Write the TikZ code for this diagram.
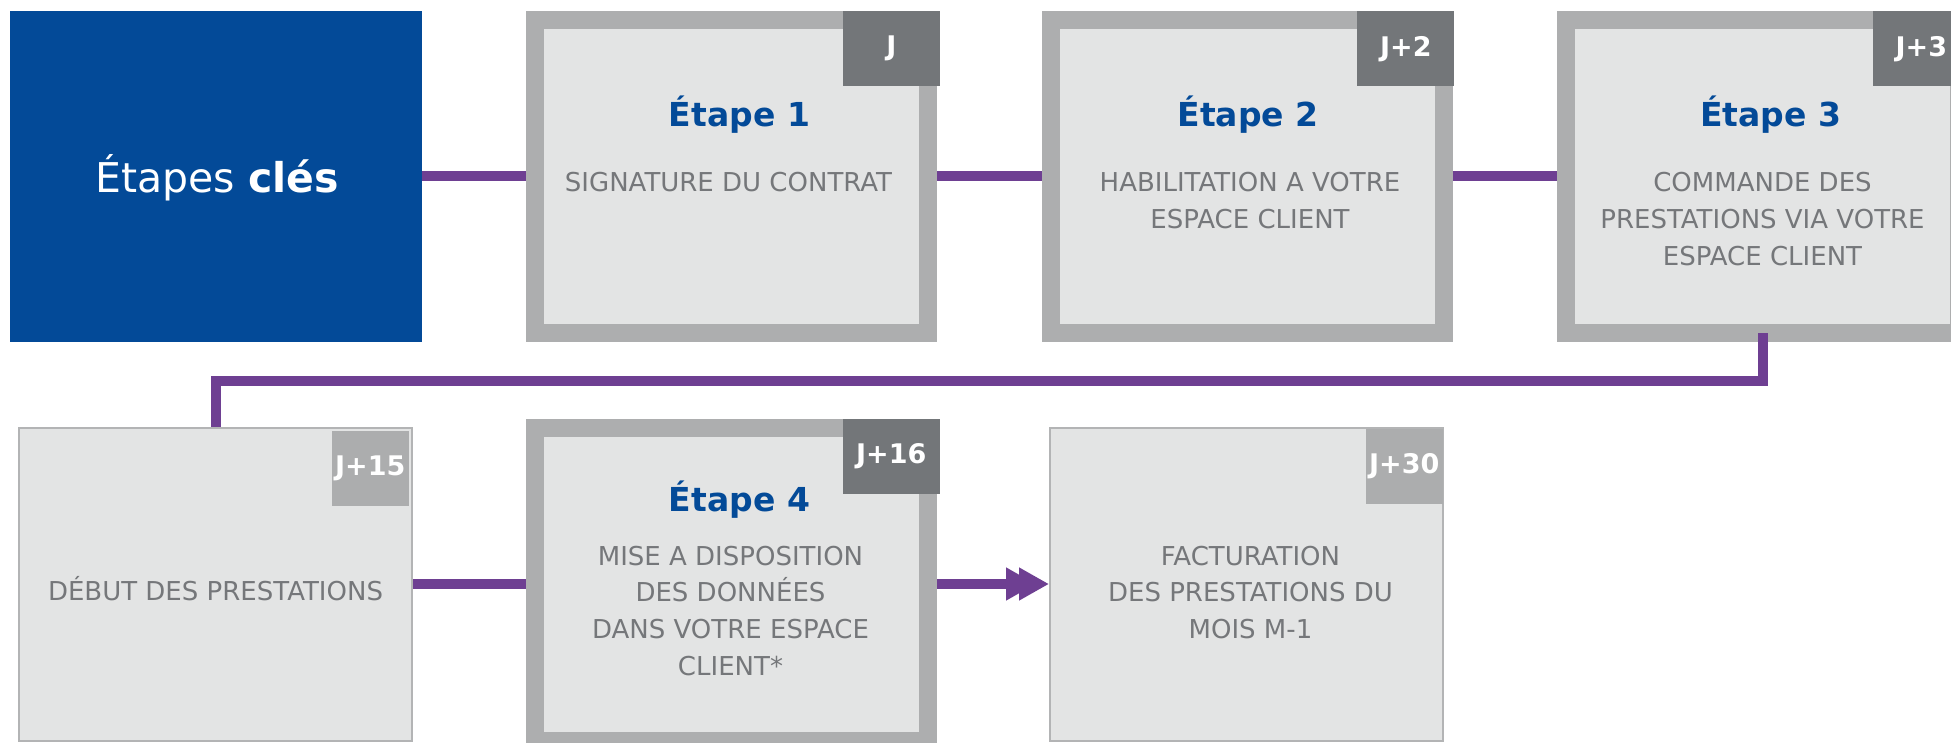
\documentclass[tikz,border=0pt]{standalone}
\usepackage{fontspec}
\setmainfont{DejaVu Sans}
\usepackage{tikz}
\usetikzlibrary{arrows.meta}

\definecolor{bleucle}{HTML}{034A98}
\definecolor{violetlien}{HTML}{6E3F92}
\definecolor{grisbord}{HTML}{ADAEAF}
\definecolor{grisfond}{HTML}{E3E4E4}
\definecolor{grisfin}{HTML}{B3B4B5}
\definecolor{grisfonce}{HTML}{737679}
\definecolor{grisbadge}{HTML}{ACADAE}
\definecolor{gristexte}{HTML}{75777A}

\begin{document}
\begin{tikzpicture}[x=1pt, y=-1pt,
    cadre/.style={draw=grisbord, line width=18pt, fill=grisfond, minimum width=393pt, minimum height=313pt, inner sep=0pt, outer sep=9pt},
    cadrefin/.style={draw=grisfin, line width=2pt, fill=grisfond, minimum width=393pt, minimum height=313pt, inner sep=0pt, outer sep=1pt},
    jour/.style={fill=grisfonce, text=white, font=\fontsize{27}{32}\selectfont\bfseries, minimum width=97pt, minimum height=75pt, inner sep=0pt, anchor=north east},
    jourclair/.style={jour, fill=grisbadge, minimum width=77pt},
    titre/.style={text=bleucle, font=\fontsize{33}{40}\selectfont\bfseries, anchor=base, inner sep=0pt},
    texte/.style={text=gristexte, font=\fontsize{26}{36.7}\selectfont, align=center, anchor=base, inner sep=0pt},
    lien/.style={draw=violetlien, line width=10pt}]
    \useasboundingbox (0,0) rectangle (1951,743);
    \clip (0,0) rectangle (1951,743);

    % Premiere ligne
    \node[fill=bleucle, minimum width=412pt, minimum height=331pt, inner sep=0pt] (cles) at (216,176.5) {};
    \node[text=white, font=\fontsize{41}{47}\selectfont, anchor=base, inner sep=0pt] (clestexte) at (217,193) {Étapes \textbf{clés}};
    \node[cadre] (e1) at (731.5,176.5) {};
    \node[cadre] (e2) at (1247,176.5) {};
    \node[cadre] (e3) at (1762.5,176.5) {};

    % Deuxieme ligne
    \node[cadrefin] (debut) at (215.5,584) {};
    \node[cadre] (e4) at (731.5,584) {};
    \node[cadrefin] (factu) at (1246.5,584) {};

    % Jours
    \node[jour] (j1) at ([xshift=3pt]e1.north east) {J};
    \node[jour] (j2) at ([xshift=2pt]e2.north east) {J+2};
    \node[jour] (j3) at ([xshift=2pt]e3.north east) {J+3};
    \node[jour] (j16) at ([xshift=3pt]e4.north east) {J+16};
    \node[jourclair] (j15) at ([xshift=-4pt,yshift=-4pt]debut.north east) {J+15};
    \node[jourclair] (j30) at ([xshift=-1pt,yshift=-2pt]factu.north east) {J+30};

    % Textes (base = ligne du bas)
    \node[titre] (t1) at ([xshift=8pt,yshift=-116pt]e1.north) {Étape 1};
    \node[titre] (t2) at ([xshift=1pt,yshift=-116pt]e2.north) {Étape 2};
    \node[titre] (t3) at ([xshift=8pt,yshift=-116pt]e3.north) {Étape 3};
    \node[titre] (t4) at ([xshift=8pt,yshift=-92.5pt]e4.north) {Étape 4};
    \node[texte] (d1) at ([xshift=-3pt,yshift=-181pt]e1.north) {SIGNATURE DU CONTRAT};
    \node[texte] (d2) at ([xshift=3pt,yshift=-217.7pt]e2.north) {HABILITATION A VOTRE\\ESPACE CLIENT};
    \node[texte] (d3) at ([yshift=-254.4pt]e3.north) {COMMANDE DES\\PRESTATIONS VIA VOTRE\\ESPACE CLIENT};
    \node[texte] (d4) at ([xshift=-1pt,yshift=-256.6pt]e4.north) {MISE A DISPOSITION\\DES DONNÉES\\DANS VOTRE ESPACE\\CLIENT*};
    \node[texte] (ddebut) at ([yshift=-16pt]debut.center) {DÉBUT DES PRESTATIONS};
    \node[texte] (dfactu) at ([xshift=4pt,yshift=-212pt]factu.north) {FACTURATION\\DES PRESTATIONS DU\\MOIS M-1};

    % Liens
    \draw[lien] (cles.east) -- (e1.west);
    \draw[lien] (e1.east) -- (e2.west);
    \draw[lien] (e2.east) -- (e3.west);
    \draw[lien] ([yshift=9pt]e3.south) -- ++(0,48) -| (debut.north);
    \draw[lien] (debut.east) -- (e4.west);
    \draw[lien, -{Triangle[length=30pt,width=31pt]}] (e4.east) -- ([xshift=-13pt]factu.west);
    \draw[lien, -{Triangle[length=30pt,width=31pt]}] (e4.east) -- (factu.west);
\end{tikzpicture}
\end{document}
